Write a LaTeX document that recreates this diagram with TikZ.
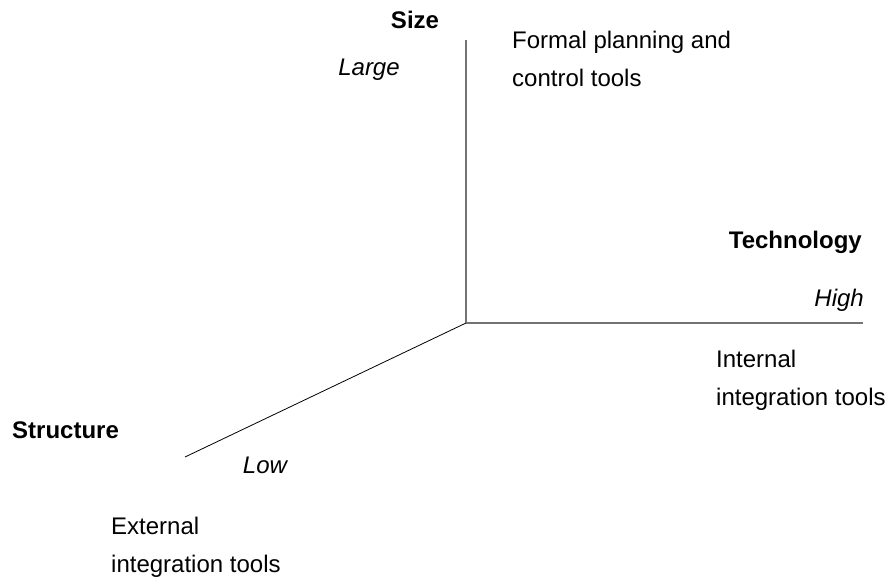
\documentclass[tikz,border=0pt]{standalone}
\usepackage{fontspec}
\setmainfont{Liberation Sans}
\begin{document}
\begin{tikzpicture}[x=1pt,y=-1pt,
  lbl/.style={inner sep=0pt,font=\fontsize{24}{37.5}\selectfont},
  axislbl/.style={lbl,font=\fontsize{24}{37.5}\selectfont\bfseries},
  endlbl/.style={lbl,font=\fontsize{24}{37.5}\selectfont\itshape},
  axis/.style={draw=black!55,line width=1.3pt},
  daxis/.style={draw=black,line width=0.8pt}]
\useasboundingbox (0,0) rectangle (891,587);
\coordinate (O) at (466,323);
\coordinate (top) at (466,40);
\coordinate (right) at (863,323);
\coordinate (diag) at (185,457);
\draw[axis] (O) -- (top);
\draw[axis] (O) -- (right);
\draw[daxis] (O) -- (diag);
\node[axislbl,anchor=base] (size) at (415,28) {Size};
\node[endlbl,anchor=base] (large) at (369,75) {Large};
\node[lbl,anchor=base west,align=left] (formal) at (512,86) {Formal planning and\\control tools};
\node[axislbl,anchor=base east] (tech) at (862,248) {Technology};
\node[endlbl,anchor=base east] (high) at (864,306) {High};
\node[lbl,anchor=base west,align=left] (internal) at (716,405) {Internal\\integration tools};
\node[axislbl,anchor=base west] (struct) at (12,438) {Structure};
\node[endlbl,anchor=base] (low) at (265,473) {Low};
\node[lbl,anchor=base west,align=left] (external) at (111,572) {External\\integration tools};
\end{tikzpicture}
\end{document}
